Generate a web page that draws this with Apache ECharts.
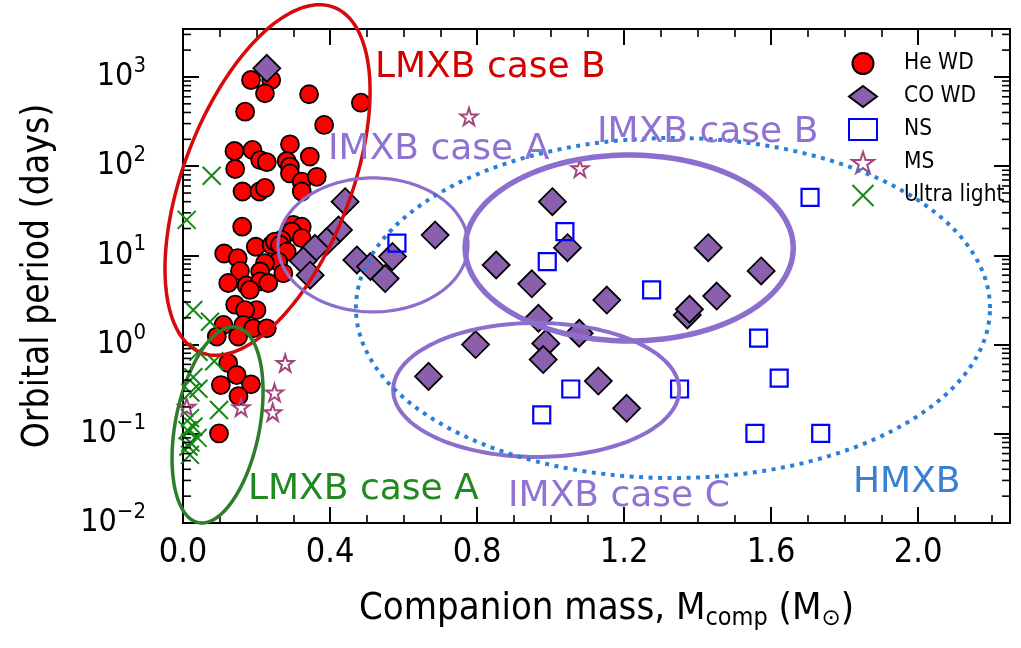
<!DOCTYPE html>
<html><head><meta charset="utf-8">
<script src="https://cdn.jsdelivr.net/npm/echarts@6/dist/echarts.min.js"></script>
<style>html,body{margin:0;padding:0;background:#fff}#c{width:1021px;height:648px}</style>
</head><body><div id="c"></div>
<script>
// ---------------- data ----------------
const xTickLabels = ['0.0','0.4','0.8','1.2','1.6','2.0'];
const yTickExponents = [-2,-1,0,1,2,3];
const seriesNames = ['He WD','CO WD','NS','MS','Ultra light'];

// [companion mass (Msun), orbital period (days)]
const heWD = [
 [0.185,925],[0.240,925],[0.223,656],[0.343,640],[0.484,515],[0.169,408],[0.384,290],
 [0.140,148],[0.189,152],[0.210,117],[0.228,111],[0.142,93],[0.291,176],[0.345,128],[0.282,114],
 [0.291,99],[0.291,83],[0.323,67],[0.364,76],[0.323,52],[0.162,52],[0.208,52],[0.223,57],
 [0.161,21],[0.300,22],[0.323,21],[0.296,18.5],[0.323,15.6],[0.268,14.9],
 [0.112,10.5],[0.198,12.5],[0.149,9.3],[0.241,13.1],[0.250,14.3],[0.264,13.1],[0.282,11],
 [0.259,8.5],[0.223,8.2],[0.155,6.7],[0.210,6.6],[0.273,6.3],[0.123,4.9],[0.173,4.6],
 [0.210,5.1],[0.232,4.9],[0.182,4.1],
 [0.142,2.8],[0.200,2.44],[0.169,2.44],[0.110,1.66],[0.164,1.66],[0.092,1.23],[0.150,1.23],
 [0.191,1.52],[0.228,1.52],
 [0.123,0.62],[0.146,0.456],[0.103,0.352],[0.185,0.359],[0.151,0.265],[0.098,0.101]
];
const coWD = [
 [0.228,1250],[0.441,40],[0.423,19.3],[0.391,14.3],[0.359,12],[0.327,8.7],[0.346,6.0],
 [0.473,8.9],[0.510,7.5],[0.550,5.5],[0.570,9.7],[0.686,16.9],[1.005,40],[1.046,12.2],
 [0.852,7.8],[0.949,4.8],[1.153,3.16],[0.967,1.97],[1.078,1.34],[0.987,1.03],[0.980,0.68],
 [0.796,1.0],[0.668,0.44],[1.130,0.39],[1.207,0.193],[1.429,12.2],[1.573,6.7],[1.452,3.5],
 [1.372,2.15],[1.378,2.49]
];
const ns = [
 [0.582,13.7],[1.039,18.5],[0.991,8.5],[1.055,0.318],[0.976,0.163],[1.706,44.8],[1.275,4.1],
 [1.566,1.18],[1.622,0.42],[1.351,0.318],[1.556,0.101],[1.735,0.101]
];
const ms = [
 [0.778,359],[1.080,94.7],[0.278,0.62],[0.249,0.289],[0.244,0.174],[0.158,0.198],[0.010,0.2]
];
const ultraLight = [
 [0.078,78],[0.010,25],[0.028,2.44],[0.0735,1.8],[0.042,0.83],[0.085,0.65],[0.028,0.43],
 [0.042,0.32],[0.020,0.29],[0.098,0.185],[0.019,0.15],[0.028,0.12],[0.040,0.09],[0.020,0.08],
 [0.015,0.072],[0.019,0.058],[0.012,0.11]
];

// region ellipses: centre [mass, period], conjugate semi-axes in (mass, decades of period)
const ellipseNames = ['LMXB case B','LMXB case A','IMXB case A','IMXB case B','IMXB case C','HMXB'];
const ellipseCentres = [[0.230,70],[0.094,0.1256],[0.517,13.1],[1.214,12.1],[0.961,0.31],[1.333,2.57]];
const ellipseAxisA = [[0.1804,1.936],[0.0517,1.095],[0.2585,0],[0.4463,0],[0.3891,0],[0.8626,0]];
const ellipseAxisB = [[0.2128,-0.336],[0.1125,-0.0899],[0,0.751],[0,1.0426],[0,0.751],[0,1.906]];

// ---------------- styles ----------------
const tickFont = "'DejaVu Sans Condensed','DejaVu Sans',sans-serif";
const annFont = "'DejaVu Sans',sans-serif";
const ellipseStyles = [
 {stroke:'#d60a0a', lineWidth:3.5},
 {stroke:'#2e7d2a', lineWidth:3.5},
 {stroke:'#8c6fcc', lineWidth:3.2},
 {stroke:'#8c6fcc', lineWidth:5.5},
 {stroke:'#8c6fcc', lineWidth:4},
 {stroke:'#2a7fd8', lineWidth:4, lineDash:[4,5.5]}
];
const annotations = [
 {text:'LMXB case B', x:375, y:68, color:'#d40000'},
 {text:'IMXB case A', x:328, y:150, color:'#8f72d2'},
 {text:'IMXB case B', x:597, y:133, color:'#8f72d2'},
 {text:'LMXB case A', x:248, y:490, color:'#1f8a1f'},
 {text:'IMXB case C', x:508, y:497, color:'#8f72d2'},
 {text:'HMXB', x:853, y:483, color:'#3a80d2'}
];
const starPath = 'path://M50,2 L61,36 L97,36 L68,57 L79,92 L50,71 L21,92 L32,57 L3,36 L39,36 Z';
const crossPath = 'path://M0,0L10,10M10,0L0,10';

const yMinorTicks = [];
yTickExponents.forEach(e => { for (let k = 2; k <= 9; k++) { const v = k * Math.pow(10, e); if (v < 3450) yMinorTicks.push(v); } });

const chart = echarts.init(document.getElementById('c'), null, {renderer:'canvas'});

function isMajor(v){ const e = Math.log10(v); return Math.abs(e - Math.round(e)) < 1e-6; }
const axLine = {show:true, onZero:false, lineStyle:{color:'#000', width:2}};
const majTick = {show:true, inside:true, length:16, lineStyle:{color:'#000', width:2}};
const minTick = {show:true, inside:true, length:8, lineStyle:{color:'#000', width:1.6}};
const xBase = {type:'value', min:0, max:2.25, splitLine:{show:false}};

const option = {
 animation:false,
 backgroundColor:'#fff',
 grid:{left:183, right:11, top:29, bottom:125, containLabel:false, outerBoundsMode:'none'},
 legend:{
  data: seriesNames, orient:'vertical', left:848, top:52, padding:0,
  itemWidth:28, itemHeight:21, itemGap:10, selectedMode:false,
  formatter: '{p|}{t|{name}}',
  textStyle:{fontFamily:tickFont, fontSize:22.5, color:'#000',
    rich:{p:{width:22}, t:{fontFamily:tickFont, fontSize:22.5, color:'#000', lineHeight:21}}}
 },
 xAxis:[
  Object.assign({}, xBase, {position:'bottom', interval:0.4, axisLine:axLine, axisTick:majTick,
   axisLabel:{fontFamily:tickFont, fontSize:34, color:'#000', margin:13, showMaxLabel:false,
     formatter: v => { const i = Math.round(v/0.4); return Math.abs(v/0.4 - i) < 1e-6 && xTickLabels[i] ? xTickLabels[i] : ''; }},
   name:'{a|Companion mass, M}{s|comp}{a| (M}{o|⊙}{a|)}', nameLocation:'middle', nameGap:64,
   nameTextStyle:{padding:[0,0,0,20], rich:{
     a:{fontFamily:tickFont, fontSize:38, color:'#000', lineHeight:44},
     s:{fontFamily:tickFont, fontSize:25, color:'#000', lineHeight:27, verticalAlign:'bottom'},
     o:{fontFamily:annFont, fontSize:23, color:'#000', lineHeight:27, verticalAlign:'bottom'}
   }}}),
  Object.assign({}, xBase, {position:'bottom', interval:0.1, axisLine:{show:false}, axisTick:minTick, axisLabel:{show:false}}),
  Object.assign({}, xBase, {position:'top', interval:0.4, axisLine:axLine, axisTick:majTick, axisLabel:{show:false}}),
  Object.assign({}, xBase, {position:'top', interval:0.1, axisLine:{show:false}, axisTick:minTick, axisLabel:{show:false}})
 ],
 yAxis:[
  {type:'log', logBase:10, min:0.01, max:3450, position:'left', splitLine:{show:false},
   axisLine:axLine, axisTick:majTick, minorTick:{show:false},
   axisLabel:{margin:37, formatter: v => {
     if (!isMajor(v)) return '';
     const e = Math.round(Math.log10(v));
     return '{b|10}{s|' + (e < 0 ? '\u2212' + (-e) : e) + '}';
   }, rich:{
     b:{fontFamily:tickFont, fontSize:32, color:'#000', lineHeight:44},
     s:{fontFamily:tickFont, fontSize:22, color:'#000', lineHeight:22, verticalAlign:'top'}
   }},
   name:'Orbital period (days)', nameLocation:'middle', nameGap:126,
   nameTextStyle:{fontFamily:tickFont, fontSize:37, color:'#000'}},
  {type:'log', logBase:10, min:0.01, max:3450, position:'right', splitLine:{show:false},
   axisLine:axLine, axisTick:majTick, axisLabel:{show:false}}
 ],
 series:[
  {name:'He WD', type:'scatter', data:heWD, symbol:'circle', symbolSize:18, z:2,
   itemStyle:{color:'#ff0000', borderColor:'#000', borderWidth:1.8, opacity:1}, emphasis:{disabled:true}},
  {name:'CO WD', type:'scatter', data:coWD, symbol:'diamond', symbolSize:27, z:2,
   itemStyle:{color:'#8a5fac', borderColor:'#000', borderWidth:1.8, opacity:1}, emphasis:{disabled:true}},
  {name:'NS', type:'scatter', data:ns, symbol:'rect', symbolSize:17, z:2,
   itemStyle:{color:'rgba(255,255,255,0)', borderColor:'#0000ff', borderWidth:2.2, opacity:1}, emphasis:{disabled:true}},
  {name:'MS', type:'scatter', data:ms, symbol:starPath, symbolSize:17, z:2,
   itemStyle:{color:'rgba(255,255,255,0)', borderColor:'#a4467e', borderWidth:2, opacity:1}, emphasis:{disabled:true}},
  {name:'Ultra light', type:'scatter', data:ultraLight, symbol:crossPath, symbolSize:18, z:2,
   itemStyle:{color:'rgba(255,255,255,0)', borderColor:'#118a11', borderWidth:2, opacity:1}, emphasis:{disabled:true}},
  {name:'regions', type:'custom', clip:false, z:5, silent:true,
   data: ellipseCentres.map((c, i) => [c[0], c[1], i]),
   renderItem: (params, api) => {
     const i = api.value(2);
     const c = ellipseCentres[i], A = ellipseAxisA[i], B = ellipseAxisB[i];
     const lc = Math.log10(c[1]);
     const pts = [];
     for (let k = 0; k < 180; k++) {
       const t = k / 180 * Math.PI * 2;
       const m = c[0] + A[0] * Math.cos(t) + B[0] * Math.sin(t);
       const l = lc + A[1] * Math.cos(t) + B[1] * Math.sin(t);
       pts.push(api.coord([m, Math.pow(10, l)]));
     }
     const st = ellipseStyles[i];
     return {type:'polygon', shape:{points:pts}, style:{fill:'none', stroke:st.stroke, lineWidth:st.lineWidth, lineDash:st.lineDash || null}};
   }},
  {name:'minorTicks', type:'custom', clip:false, z:6, silent:true,
   data: yMinorTicks.map(v => [0, v]),
   renderItem: (params, api) => {
     const y = api.coord([0, api.value(1)])[1];
     const cs = params.coordSys;
     const st = {stroke:'#000', lineWidth:1.6};
     return {type:'group', children:[
       {type:'line', shape:{x1:cs.x, y1:y, x2:cs.x + 8, y2:y}, style:st},
       {type:'line', shape:{x1:cs.x + cs.width - 8, y1:y, x2:cs.x + cs.width, y2:y}, style:st}
     ]};
   }}
 ],
 graphic: annotations.map(a => ({type:'text', x:a.x, y:a.y, z:10,
   style:{text:a.text, fill:a.color, font:'36px ' + annFont, textAlign:'left', textVerticalAlign:'middle', verticalAlign:'middle'}}))
};
chart.setOption(option);
</script></body></html>
